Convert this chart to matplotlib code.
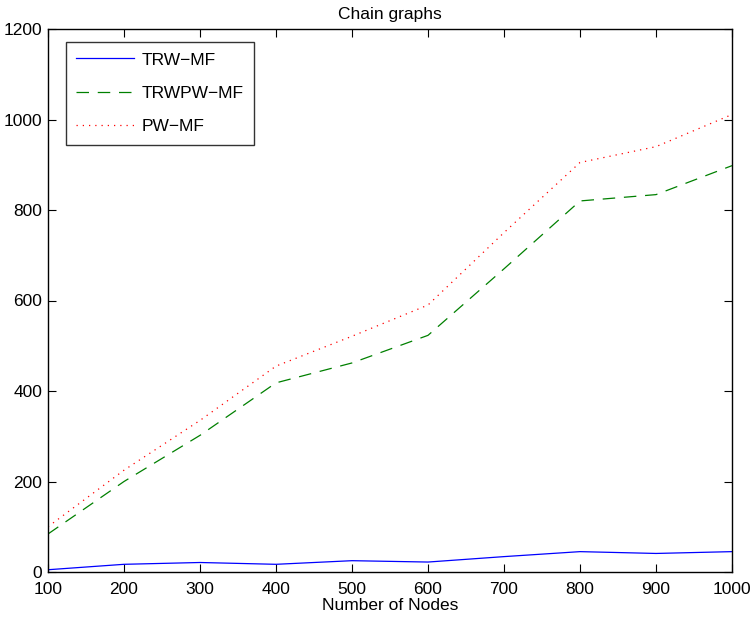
import matplotlib
matplotlib.use("Agg")
import matplotlib.pyplot as plt

nodes = [100, 200, 300, 400, 500, 600, 700, 800, 900, 1000]
trw_mf = [5, 17, 21, 17, 25, 22, 34, 45, 41, 45]
trwpw_mf = [84, 200, 302, 418, 462, 523, 670, 820, 834, 898]
pw_mf = [100, 225, 335, 455, 521, 590, 750, 905, 940, 1011]

xticks = [100, 200, 300, 400, 500, 600, 700, 800, 900, 1000]
yticks = [0, 200, 400, 600, 800, 1000, 1200]

plt.rcParams['font.family'] = ['Liberation Sans', 'DejaVu Sans']
plt.rcParams['font.size'] = 12.5

fig = plt.figure(figsize=(7.55, 6.21), dpi=100)
ax = fig.add_axes([48/755, 1 - 572/621, (732-48)/755, (572-29)/621])

ax.plot(nodes, trw_mf, color=(0, 0, 1), lw=0.9, linestyle='-', label='TRW\u2212MF')
ax.plot(nodes, trwpw_mf, color=(0, 0.5, 0), lw=0.9, linestyle=(0, (10, 7)), label='TRWPW\u2212MF')
ax.plot(nodes, pw_mf, color=(1, 0, 0), lw=0.9, linestyle=(0, (1, 4)), label='PW\u2212MF')

ax.set_xlim(100, 1000)
ax.set_ylim(0, 1200)
ax.set_xticks(xticks)
ax.set_yticks(yticks)
ax.tick_params(direction='in', length=6, width=0.8, top=True, right=True, labelsize=12.5)
ax.tick_params(axis='x', pad=7)
ax.tick_params(axis='y', pad=4)
for s in ax.spines.values():
    s.set_linewidth(1.0)

ax.set_title('Chain graphs', fontsize=12.5, pad=7)
ax.set_xlabel('Number of Nodes', fontsize=12.5, labelpad=1)

leg = ax.legend(loc='upper left', bbox_to_anchor=(18/684, 1 - 13/543), fontsize=12.5,
                frameon=True, fancybox=False, edgecolor='black', handlelength=3.3,
                labelspacing=1.05, borderpad=0.6, handletextpad=0.45, borderaxespad=0)
leg.get_frame().set_linewidth(1.0)

fig.savefig('out.png', dpi=100)
